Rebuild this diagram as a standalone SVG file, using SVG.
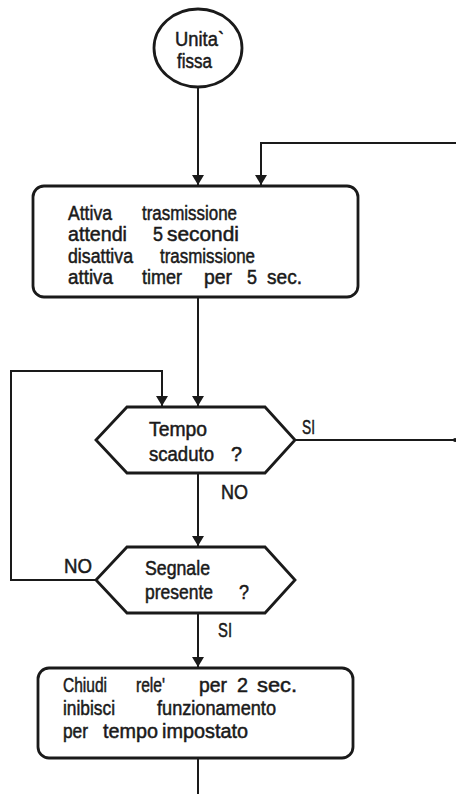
<svg xmlns="http://www.w3.org/2000/svg" width="456" height="794" viewBox="0 0 456 794">
<defs>
<marker id="ah" viewBox="0 0 10 12" refX="10" refY="6" markerWidth="10" markerHeight="12" markerUnits="userSpaceOnUse" orient="auto">
<path d="M0,0 L10,6 L0,12 Z" fill="#1a1a1a"/>
</marker>
</defs>
<style>
.s{fill:#fff;stroke:#1a1a1a;stroke-width:2.8}
.c{fill:none;stroke:#1a1a1a;stroke-width:2}
.a{marker-end:url(#ah)}
text{font-family:"Liberation Sans",Arial,sans-serif;font-size:20px;fill:#1a1a1a;stroke:#1a1a1a;stroke-width:0.5}
</style>
<rect width="456" height="794" fill="#fff"/>
<g id="connectors">
<path class="c a" d="M198,87 V185"/>
<path class="c a" d="M456,143 H261 V185"/>
<path class="c a" d="M198,297 V406"/>
<path class="c a" d="M96,580 H11 V371 H162 V406"/>
<path class="c" d="M295,440 H455"/>
<circle cx="455" cy="440" r="2" fill="#1a1a1a"/>
<path class="c a" d="M198,473 V546"/>
<path class="c a" d="M198,613 V667"/>
<path class="c" d="M198,758 V794"/>
<text x="302" y="434" textLength="13" lengthAdjust="spacingAndGlyphs">SI</text>
<text x="221" y="499" textLength="27" lengthAdjust="spacingAndGlyphs">NO</text>
<text x="64" y="573" textLength="28" lengthAdjust="spacingAndGlyphs">NO</text>
<text x="218" y="637" textLength="14" lengthAdjust="spacingAndGlyphs">SI</text>
</g>
<g id="start">
<ellipse class="s" cx="198" cy="48" rx="44" ry="39"/>
<text x="175" y="46" textLength="49" lengthAdjust="spacingAndGlyphs">Unita`</text>
<text x="177" y="68" textLength="35" lengthAdjust="spacingAndGlyphs">fissa</text>
</g>
<g id="box1">
<rect class="s" x="33" y="186" width="325" height="111" rx="11"/>
<text x="68" y="220" textLength="44" lengthAdjust="spacingAndGlyphs">Attiva</text>
<text x="142" y="220" textLength="95" lengthAdjust="spacingAndGlyphs">trasmissione</text>
<text x="68" y="241" textLength="59" lengthAdjust="spacingAndGlyphs">attendi</text>
<text x="153" y="241" textLength="10" lengthAdjust="spacingAndGlyphs">5</text>
<text x="167" y="241" textLength="72" lengthAdjust="spacingAndGlyphs">secondi</text>
<text x="68" y="263" textLength="65" lengthAdjust="spacingAndGlyphs">disattiva</text>
<text x="160" y="263" textLength="95" lengthAdjust="spacingAndGlyphs">trasmissione</text>
<text x="68" y="284" textLength="45" lengthAdjust="spacingAndGlyphs">attiva</text>
<text x="142" y="284" textLength="40" lengthAdjust="spacingAndGlyphs">timer</text>
<text x="204" y="284" textLength="28" lengthAdjust="spacingAndGlyphs">per</text>
<text x="247" y="284" textLength="10" lengthAdjust="spacingAndGlyphs">5</text>
<text x="267" y="284" textLength="35" lengthAdjust="spacingAndGlyphs">sec.</text>
</g>
<g id="dec1">
<polygon class="s" points="96,440 127,407 265,407 295,440 265,473 127,473"/>
<text x="149" y="436" textLength="58" lengthAdjust="spacingAndGlyphs">Tempo</text>
<text x="149" y="461" textLength="65" lengthAdjust="spacingAndGlyphs">scaduto</text>
<text x="231" y="461" textLength="11" lengthAdjust="spacingAndGlyphs">?</text>
</g>
<g id="dec2">
<polygon class="s" points="96,580 127,547 265,547 295,580 265,613 127,613"/>
<text x="145" y="575" textLength="65" lengthAdjust="spacingAndGlyphs">Segnale</text>
<text x="145" y="599" textLength="68" lengthAdjust="spacingAndGlyphs">presente</text>
<text x="239" y="599" textLength="10" lengthAdjust="spacingAndGlyphs">?</text>
</g>
<g id="box3">
<rect class="s" x="38" y="668" width="315" height="90" rx="11"/>
<text x="63" y="692" textLength="44" lengthAdjust="spacingAndGlyphs">Chiudi</text>
<text x="136" y="692" textLength="29" lengthAdjust="spacingAndGlyphs">rele'</text>
<text x="199" y="692" textLength="28" lengthAdjust="spacingAndGlyphs">per</text>
<text x="237" y="692" textLength="11" lengthAdjust="spacingAndGlyphs">2</text>
<text x="257" y="692" textLength="40" lengthAdjust="spacingAndGlyphs">sec.</text>
<text x="63" y="715" textLength="52" lengthAdjust="spacingAndGlyphs">inibisci</text>
<text x="157" y="715" textLength="119" lengthAdjust="spacingAndGlyphs">funzionamento</text>
<text x="63" y="738" textLength="25" lengthAdjust="spacingAndGlyphs">per</text>
<text x="103" y="738" textLength="55" lengthAdjust="spacingAndGlyphs">tempo</text>
<text x="162" y="738" textLength="86" lengthAdjust="spacingAndGlyphs">impostato</text>
</g>
</svg>
